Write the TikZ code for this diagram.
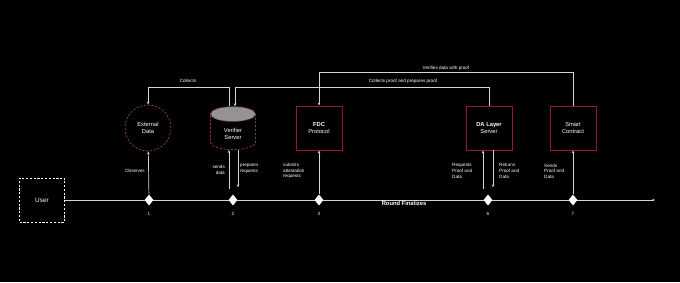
\documentclass[tikz,border=0pt]{standalone}
\usepackage{fontspec}
\setmainfont{Liberation Sans}
\usetikzlibrary{arrows.meta,positioning,shapes.geometric}
\definecolor{edgered}{HTML}{6E2B40}
\definecolor{dashred}{HTML}{87374F}
\definecolor{wire}{HTML}{D4D4D4}

\begin{document}
\begin{tikzpicture}[x=1pt, y=-1pt, font=\fontsize{5}{6}\selectfont, text=white]
    \tikzset{box/.style={draw=edgered, line width=0.9pt, minimum width=46pt, minimum height=44pt, align=center, font=\fontsize{5.8}{7}\selectfont},
      dashbox/.style={draw=dashred, line width=0.8pt, dash pattern=on 2.2pt off 1.6pt, align=center, font=\fontsize{5.8}{7}\selectfont},
      flow/.style={draw=wire, line width=0.7pt, -{Stealth[length=3pt, width=2.6pt]}},
      tick/.style={diamond, fill=white, minimum width=9pt, minimum height=11pt, inner sep=0},
      lbl/.style={font=\fontsize{4.6}{5.6}\selectfont, inner sep=0, align=left}}
    \fill[black] (0,0) rectangle (680,282);
    % actors
    \node[draw=white, line width=0.8pt, dash pattern=on 2.2pt off 1.6pt, minimum width=45pt, minimum height=44pt, font=\fontsize{6.4}{7.5}\selectfont] (user) at (42,200) {User};
    \node[dashbox, circle, minimum size=46pt] (ext) at (148,128) {External\\Data};
    \node[dashbox, cylinder, shape border rotate=90, aspect=0.6, cylinder uses custom fill, cylinder end fill=gray!85, cylinder body fill=black, minimum width=45pt, minimum height=43pt] (ver) at (233,134) {Verifier\\Server};
    \node[box] (fdc) at (319,128) {\textbf{FDC}\\Protocol};
    \node[box] (da) at (489,128) {\textbf{DA Layer}\\Server};
    \node[box] (sc) at (573,128) {Smart\\Contract};
    % timeline
    \coordinate (tend) at (655,200);
    \draw[wire, line width=1pt, -{Stealth[length=3pt, width=2.6pt]}] (user.east) -- (tend);
    \node[tick] (d1) at (149,200) {};
    \node[tick] (d2) at (233,200) {};
    \node[tick] (d3) at (319,200) {};
    \node[tick] (d6) at (488,200) {};
    \node[tick] (d7) at (573,200) {};
    \foreach \d/\n in {d1/1, d2/2, d3/3, d6/6, d7/7}
      \node[lbl, below=6pt of \d] {\n};
    \node[font=\bfseries\fontsize{5.8}{7}\selectfont, anchor=north, inner sep=1pt] (round) at (404,200) {Round Finalizes};
    % steps
    \draw[flow] (d1) -- (ext);
    \node[lbl, anchor=east] (obs) at (145,171) {Observes};
    \draw[flow] ([xshift=-4pt, yshift=5pt]d2.north) -- ([xshift=-4pt]ver.south);
    \draw[flow] ([xshift=5pt]ver.south) -- ([xshift=5pt, yshift=7pt]d2.north);
    \node[lbl, anchor=east, align=right] (sends) at (225,170) {sends\\data};
    \node[lbl, anchor=west] (prep) at (240,169) {prepares\\requests};
    \draw[flow] (d3) -- (fdc);
    \node[lbl, anchor=west] (subm) at (283,171) {submits\\attestation\\requests};
    \draw[flow] ([xshift=-5pt, yshift=5pt]d6.north) -- ([xshift=-6pt]da.south);
    \draw[flow] ([xshift=4pt]da.south) -- ([xshift=5pt, yshift=7pt]d6.north);
    \node[lbl, anchor=west] (req) at (452,171) {Requests\\Proof and\\Data};
    \node[lbl, anchor=west] (ret) at (499,171) {Returns\\Proof and\\Data};
    \draw[flow] (d7) -- (sc);
    \node[lbl, anchor=west] (snd) at (544,171) {Sends\\Proof and\\Data};
    % feedback on top
    \draw[flow] ([xshift=-4pt]ver.north) -- ++(0,-19) -| (ext.north);
    \node[lbl] (coll) at (188,81) {Collects};
    \draw[flow] (da.north) -- ++(0,-18) -| ([xshift=2pt]ver.north);
    \node[lbl] (collp) at (403,81) {Collects proof and prepares proof};
    \draw[flow] (sc.north) -- ++(0,-33) -| (fdc.north);
    \node[lbl] (verif) at (446,68) {Verifies data with proof};
  \end{tikzpicture}
\end{document}
